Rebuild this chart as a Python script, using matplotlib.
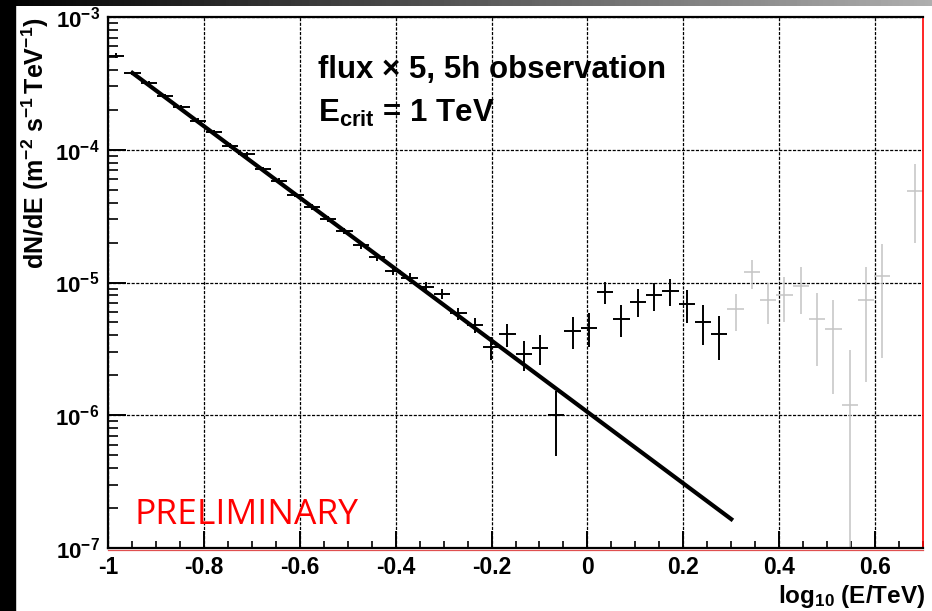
#Differential flux spectrum with power-law fit (flux x5, 5h observation)

import numpy as np
import matplotlib
matplotlib.use('Agg')
import matplotlib.pyplot as plt
from matplotlib.ticker import LogLocator, MultipleLocator, NullFormatter
from matplotlib.lines import Line2D
from matplotlib.patches import Rectangle

plt.rcParams['font.family'] = ['Liberation Sans', 'DejaVu Sans']
plt.rcParams['mathtext.fontset'] = 'custom'
plt.rcParams['mathtext.rm'] = 'Liberation Sans'
plt.rcParams['mathtext.it'] = 'Liberation Sans:italic'
plt.rcParams['mathtext.bf'] = 'Liberation Sans:bold'
plt.rcParams['axes.unicode_minus'] = False

# bins with enough statistics (black)
x_meas = [-0.983, -0.949, -0.915, -0.881, -0.847, -0.813, -0.779, -0.745,
          -0.711, -0.677, -0.643, -0.609, -0.575, -0.541, -0.507, -0.473,
          -0.439, -0.405, -0.371, -0.337, -0.303, -0.269, -0.235, -0.201,
          -0.167, -0.133, -0.099, -0.065, -0.031, 0.003, 0.037, 0.071,
          0.105, 0.139, 0.173, 0.207, 0.241, 0.275]
y_meas = [5.1e-4, 3.79e-4, 3.17e-4, 2.54e-4, 2.11e-4, 1.66e-4, 1.35e-4, 1.07e-4,
          9.25e-5, 7.13e-5, 5.85e-5, 4.60e-5, 3.68e-5, 3.01e-5, 2.44e-5, 1.91e-5,
          1.55e-5, 1.23e-5, 1.09e-5, 9.29e-6, 8.18e-6, 5.86e-6, 4.79e-6, 3.25e-6,
          4.09e-6, 2.88e-6, 3.23e-6, 1.00e-6, 4.32e-6, 4.57e-6, 8.43e-6, 5.31e-6,
          7.16e-6, 8.05e-6, 8.63e-6, 6.89e-6, 5.07e-6, 4.09e-6]
yerr_meas = [2.3e-5, 1.5e-5, 1.2e-5, 1.0e-5, 8e-6, 6.5e-6, 5.5e-6, 4.5e-6,
             4e-6, 3.2e-6, 2.7e-6, 2.3e-6, 1.9e-6, 1.6e-6, 1.4e-6, 1.2e-6,
             1.0e-6, 0.9e-6, 0.85e-6, 0.75e-6, 0.7e-6, 0.6e-6, 0.6e-6, 0.66e-6,
             0.8e-6, 0.72e-6, 0.82e-6, 0.51e-6, 1.17e-6, 1.3e-6, 1.6e-6, 1.45e-6,
             1.7e-6, 1.9e-6, 2.0e-6, 1.9e-6, 1.7e-6, 1.5e-6]

# low statistics bins (grey)
x_low = [0.309, 0.343, 0.377, 0.411, 0.445, 0.479, 0.513, 0.547, 0.581, 0.615, 0.683]
y_low = [6.28e-6, 1.19e-5, 7.38e-6, 8.01e-6, 9.42e-6, 5.33e-6, 4.44e-6, 1.20e-6,
         7.38e-6, 1.11e-5, 4.89e-5]
yerr_low = [1.95e-6, 3.0e-6, 2.5e-6, 3.0e-6, 3.6e-6, 3.0e-6, 3.0e-6, 1.9e-6,
            5.6e-6, 8.4e-6, 2.9e-5]
bin_half = 0.017

# power law fit, end points
fit_x = [-0.949, 0.30]
fit_y = [3.79e-4, 1.65e-7]

x_ticks = [-1, -0.8, -0.6, -0.4, -0.2, 0, 0.2, 0.4, 0.6]
x_tick_labels = ['-1', '-0.8', '-0.6', '-0.4', '-0.2', '0', '0.2', '0.4', '0.6']
y_ticks = [1e-7, 1e-6, 1e-5, 1e-4, 1e-3]
y_tick_labels = [r'$\mathbf{10^{-7}}$', r'$\mathbf{10^{-6}}$', r'$\mathbf{10^{-5}}$',
                 r'$\mathbf{10^{-4}}$', r'$\mathbf{10^{-3}}$']

fig = plt.figure(figsize=(9.32, 6.11), dpi=100)

# window frame: grey gradient on top, black band on the left
bar = fig.add_axes([0, 1 - 6/611, 1, 6/611])
bar.imshow(np.linspace(0, 0.68, 256)[None, :], cmap='gray', vmin=0, vmax=1, aspect='auto')
bar.axis('off')
fig.patches.append(Rectangle((0, 0), 15/932, 1, transform=fig.transFigure,
                             color='black', zorder=0))

ax = fig.add_axes([108/932, 1 - 548/611, 815/932, 531/611])
ax.set_yscale('log')
ax.set_xlim(-1, 0.7)
ax.set_ylim(1e-7, 1e-3)

ax.errorbar(x_low, y_low, xerr=bin_half, yerr=yerr_low, fmt='none',
            ecolor='#c4c4c4', elinewidth=1.1, capsize=0)
ax.errorbar(x_meas, y_meas, xerr=bin_half, yerr=yerr_meas, fmt='none',
            ecolor='black', elinewidth=1.4, capsize=0)
ax.plot(fit_x, fit_y, color='black', lw=3)

ax.set_xticks(x_ticks, x_tick_labels, fontsize=16.5, fontweight='bold')
ax.set_yticks(y_ticks, y_tick_labels, fontsize=16)
ax.xaxis.set_minor_locator(MultipleLocator(0.05))
ax.yaxis.set_minor_locator(LogLocator(base=10, subs=range(2, 10)))
ax.yaxis.set_minor_formatter(NullFormatter())
ax.tick_params(axis='x', which='major', direction='in', length=12, width=1.4, pad=6)
ax.tick_params(axis='x', which='minor', direction='in', length=5, width=1.2)
ax.tick_params(axis='y', which='major', direction='in', length=13, width=1.4, pad=6)
ax.tick_params(axis='y', which='minor', direction='in', length=7, width=1.2)
ax.grid(True, which='major', color='black', lw=0.9, linestyle=(0, (2.5, 1.2)))
ax.set_axisbelow(True)

for s in ['left', 'bottom', 'top']:
    ax.spines[s].set_linewidth(1.6)
ax.spines['right'].set_color('red')
ax.spines['right'].set_linewidth(1.2)
fig.add_artist(Line2D([108/932, 923/932], [1 - 550/611] * 2, color='#e05050', lw=0.9))

fig.text(35/932, 1 - 17/611, r'$\mathbf{dN/dE\ (m^{-2}\ s^{-1}\,TeV^{-1})}$',
         rotation=90, ha='center', va='top', fontsize=18)
fig.text(925/932, 1 - 603/611, r'$\mathbf{log_{10}}$ (E/TeV)', ha='right',
         va='baseline', fontsize=17.5, fontweight='bold')

fig.text(318/932, 1 - 70/611, 'flux \u00d7 5, 5h observation', ha='left', va='center',
         fontsize=22.5, fontweight='bold')
fig.text(318/932, 1 - 113/611, r'$\mathbf{E_{crit}}$ = 1 TeV', ha='left', va='center',
         fontsize=22.5, fontweight='bold')
fig.text(135/932, 1 - 515/611, 'PRELIMINARY', color='red', fontsize=25.5,
         family='Open Sans', ha='left', va='center')

fig.savefig('out.png', dpi=100)
